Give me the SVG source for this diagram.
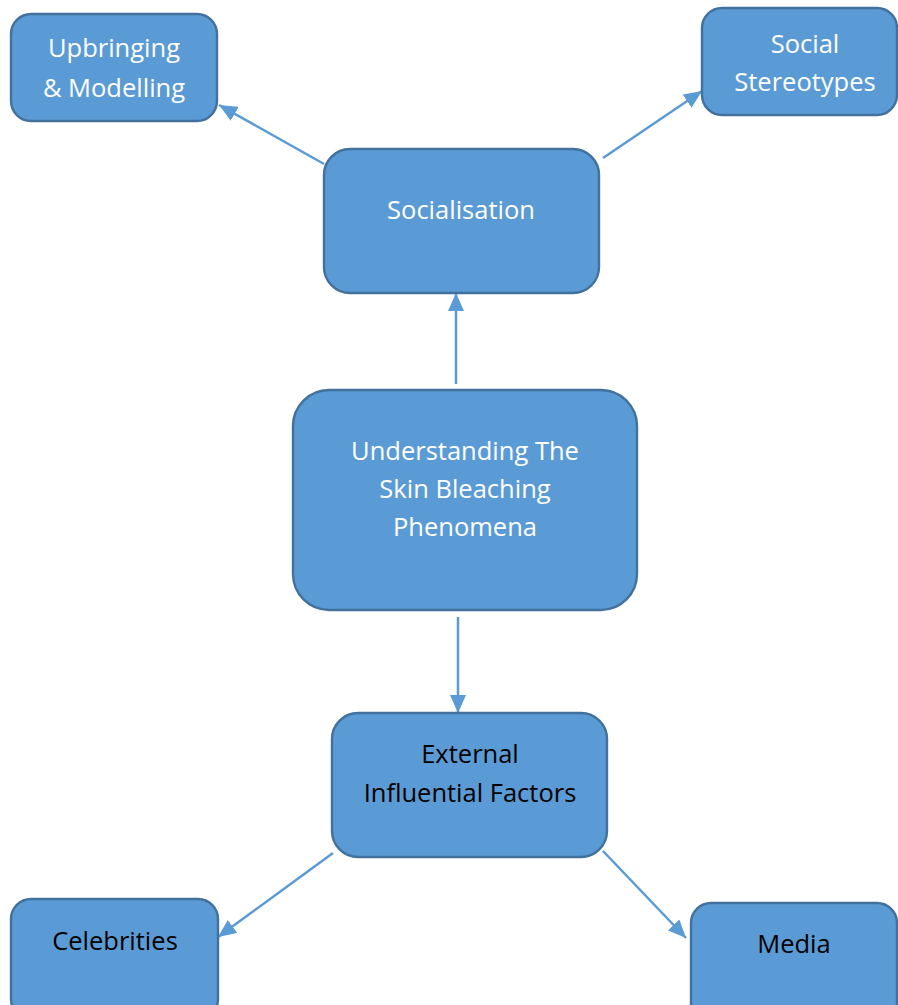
<svg xmlns="http://www.w3.org/2000/svg" width="898" height="1005" viewBox="0 0 898 1005">
<defs>
<style>
.box{fill:#5B9BD5;stroke:#41719C;stroke-width:2.4}
.t{font-family:"Open Sans","Liberation Sans",sans-serif;font-size:25.5px;text-anchor:middle}
.w{fill:#FFFFFF}
.b{fill:#000000}
.c{stroke:#5B9BD5;stroke-width:2.5;fill:none;marker-end:url(#ah)}
</style>
<marker id="ah" markerUnits="userSpaceOnUse" markerWidth="20" markerHeight="16" viewBox="0 0 20 16" refX="18" refY="8" orient="auto">
<path d="M0,0 L18,8 L0,16 Z" fill="#5B9BD5"/>
</marker>
</defs>
<rect width="898" height="1005" fill="#FFFFFF"/>
<g id="connectors">
<line class="c" x1="324" y1="164" x2="219" y2="105"/>
<line class="c" x1="603" y1="158" x2="702" y2="91"/>
<line class="c" x1="456" y1="384" x2="456" y2="293"/>
<line class="c" x1="458" y1="617" x2="458" y2="713"/>
<line class="c" x1="333" y1="853" x2="218" y2="937"/>
<line class="c" x1="603" y1="851" x2="686" y2="938"/>
</g>
<g id="upbringing">
<rect class="box" x="11" y="14" width="206" height="107" rx="20"/>
<text class="t w" x="114" y="57">Upbringing</text>
<text class="t w" x="114" y="97">&amp; Modelling</text>
</g>
<g id="stereotypes">
<rect class="box" x="702" y="8" width="195" height="107" rx="20"/>
<text class="t w" x="805" y="53">Social</text>
<text class="t w" x="805" y="91">Stereotypes</text>
</g>
<g id="socialisation">
<rect class="box" x="324" y="149" width="275" height="144" rx="26"/>
<text class="t w" x="461" y="219">Socialisation</text>
</g>
<g id="central">
<rect class="box" x="293" y="390" width="344" height="220" rx="36"/>
<text class="t w" x="465" y="460">Understanding The</text>
<text class="t w" x="465" y="498">Skin Bleaching</text>
<text class="t w" x="465" y="536">Phenomena</text>
</g>
<g id="external">
<rect class="box" x="332" y="713" width="275" height="144" rx="26"/>
<text class="t b" x="470" y="763">External</text>
<text class="t b" x="470" y="802">Influential Factors</text>
</g>
<g id="celebrities">
<rect class="box" x="11" y="899" width="207" height="120" rx="20"/>
<text class="t b" x="115" y="950">Celebrities</text>
</g>
<g id="media">
<rect class="box" x="691" y="903" width="206" height="120" rx="20"/>
<text class="t b" x="794" y="953">Media</text>
</g>
</svg>
